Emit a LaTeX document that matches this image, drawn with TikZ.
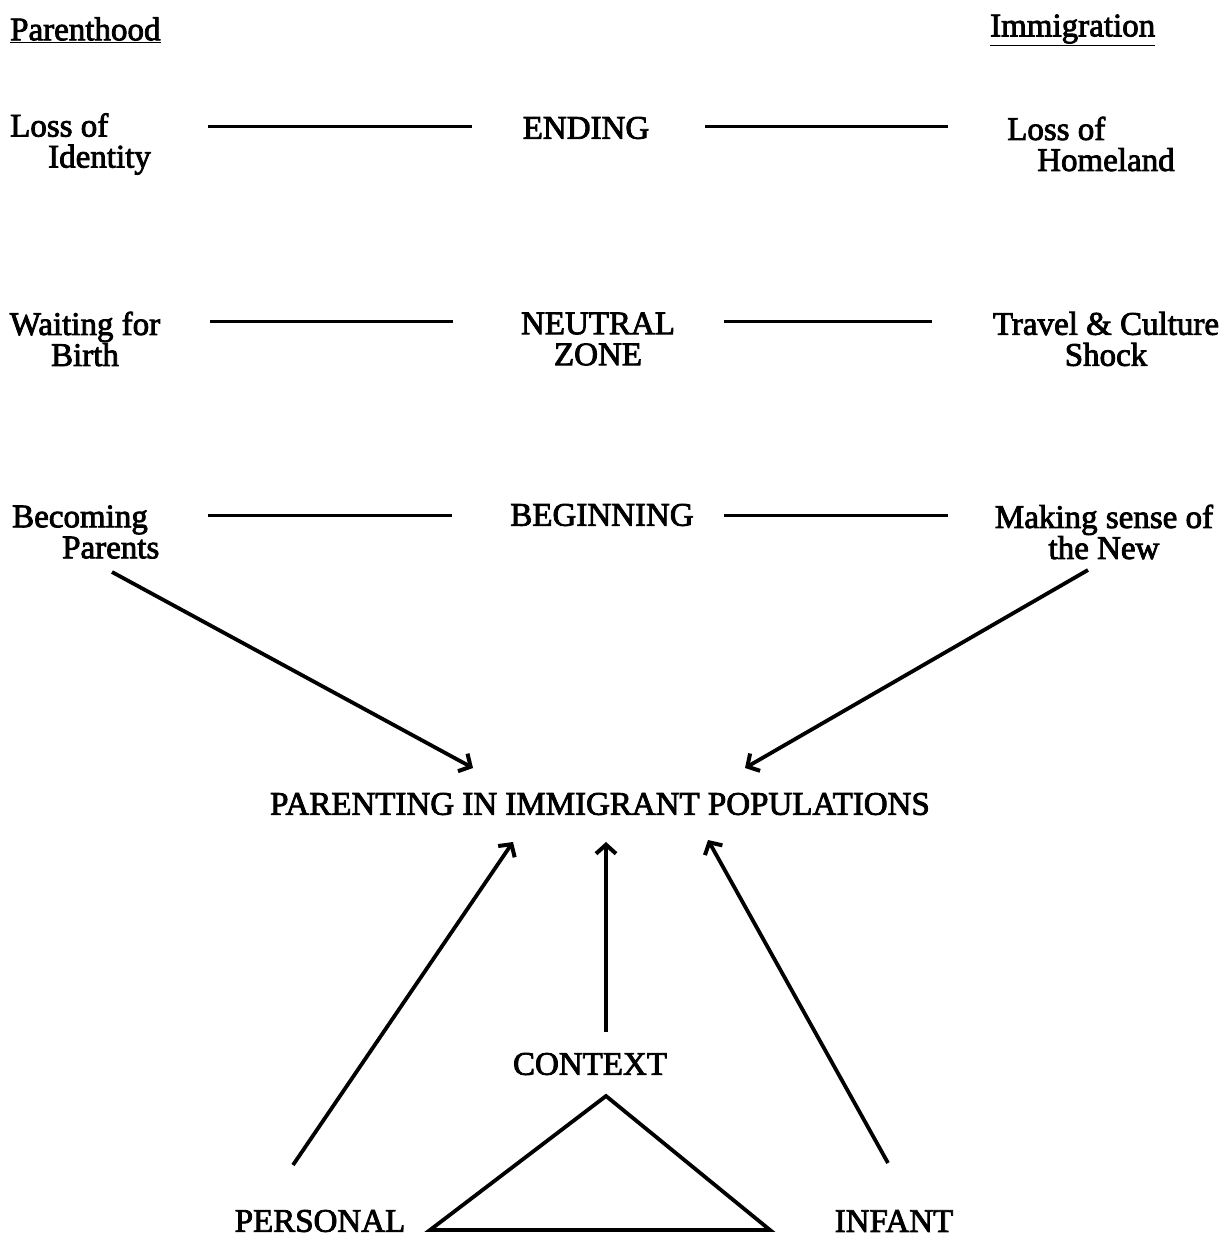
\documentclass[tikz,border=0pt]{standalone}
\usepackage{fontspec}
\setmainfont{Liberation Serif}
\newfontfamily\heavy{Liberation Serif}[FakeBold=2.5]
\usetikzlibrary{arrows.meta}
\begin{document}
\begin{tikzpicture}[x=1pt,y=-1pt,
  lbl/.style={inner sep=0pt, font=\heavy\fontsize{33}{31}\selectfont, align=center},
  lblL/.style={lbl, align=left, anchor=west},
  conn/.style={line width=3pt},
  tri/.style={line width=3.8pt, line join=miter},
  arr/.style={line width=3.8pt, -{Straight Barb[length=9pt,width=20pt,line width=4pt]}}]
\useasboundingbox (0,0) rectangle (1222,1238);
% headers
\node[lblL] (hp) at (10,30) {\underline{Parenthood}};
\node[lblL] (hi) at (990,30) {\underline{Immigration}};
% row 1
\node[lblL] (l1) at (10,144) {Loss of\\\hspace*{38pt}Identity};
\node[lbl] (c1) at (586,128) {ENDING};
\node[lblL] (r1) at (1007,144) {Loss of\\\hspace*{30pt}Homeland};
% row 2
\node[lbl] (l2) at (85,339) {Waiting for\\Birth};
\node[lbl] (c2) at (598,339) {NEUTRAL\\ZONE};
\node[lbl] (r2) at (1106,339) {Travel \& Culture\\Shock};
% row 3
\node[lblL] (l3) at (12,532) {Becoming\\\hspace*{50pt}Parents};
\node[lbl] (c3) at (602,515) {BEGINNING};
\node[lbl] (r3) at (1104,532) {Making sense of\\the New};
% center
\node[lbl] (p) at (600,804) {PARENTING IN IMMIGRANT POPULATIONS};
\node[lbl] (ctx) at (590,1064) {CONTEXT};
\node[lbl] (per) at (320,1221) {PERSONAL};
\node[lbl] (inf) at (894,1221) {INFANT};
% connector coordinates
\coordinate (a1) at (208,127); \coordinate (b1) at (472,127);
\coordinate (a2) at (705,127); \coordinate (b2) at (948,127);
\coordinate (a3) at (210,321); \coordinate (b3) at (453,321);
\coordinate (a4) at (724,321); \coordinate (b4) at (932,321);
\coordinate (a5) at (208,515); \coordinate (b5) at (452,515);
\coordinate (a6) at (724,515); \coordinate (b6) at (948,515);
\draw[conn] (a1) -- (b1);
\draw[conn] (a2) -- (b2);
\draw[conn] (a3) -- (b3);
\draw[conn] (a4) -- (b4);
\draw[conn] (a5) -- (b5);
\draw[conn] (a6) -- (b6);
% arrows
\coordinate (s1) at (112,572); \coordinate (e1) at (473,768);
\coordinate (s2) at (1088,570); \coordinate (e2) at (745,768);
\coordinate (s3) at (293,1165); \coordinate (e3) at (513,842);
\coordinate (s4) at (606,1032); \coordinate (e4) at (606,842);
\coordinate (s5) at (888,1163); \coordinate (e5) at (708,840);
\draw[arr] (s1) -- (e1);
\draw[arr] (s2) -- (e2);
\draw[arr] (s3) -- (e3);
\draw[arr] (s4) -- (e4);
\draw[arr] (s5) -- (e5);
% triangle
\coordinate (t1) at (606,1096); \coordinate (t2) at (430,1230); \coordinate (t3) at (770,1230);
\draw[tri] (t1) -- (t2) -- (t3) -- cycle;
\end{tikzpicture}
\end{document}
